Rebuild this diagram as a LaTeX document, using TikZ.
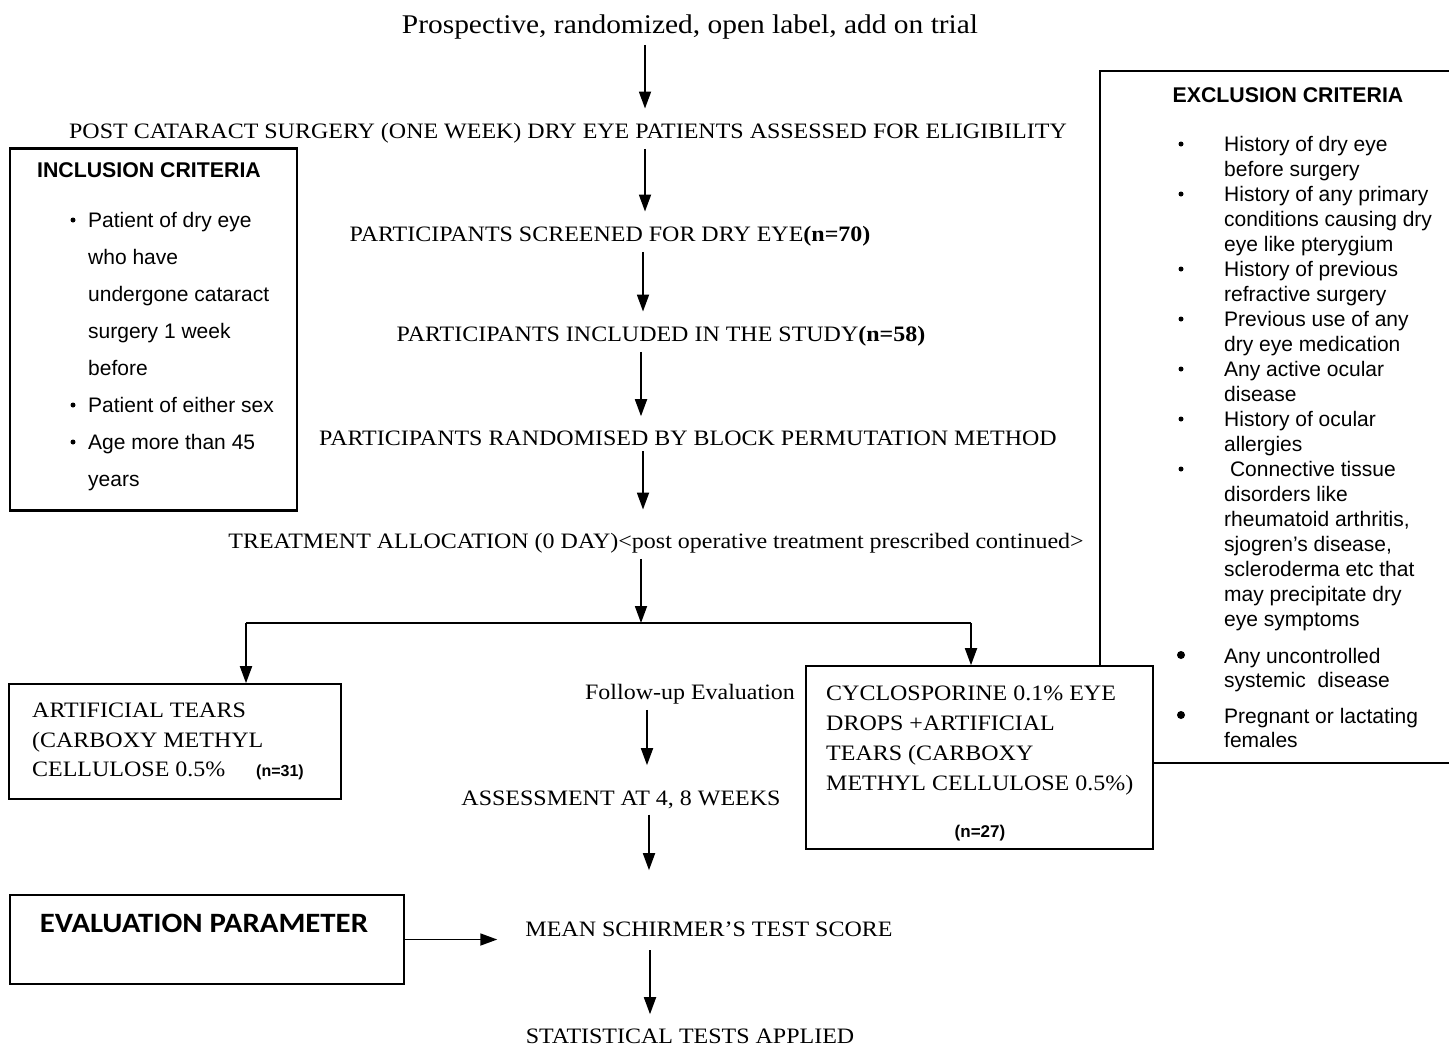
\documentclass[tikz,border=0pt]{standalone}
\usepackage{fontspec}
\setmainfont[FakeStretch=1.09]{Liberation Serif}
\newfontfamily\arial{Liberation Sans}
\newfontfamily\calibri[FakeStretch=1.1]{Carlito}
\usetikzlibrary{arrows.meta}
\begin{document}
\begin{tikzpicture}[x=1pt,y=-1pt,
  txt/.style={font=\fontsize{22}{26}\selectfont, inner sep=2pt, anchor=base},
  btxt/.style={font=\fontsize{22}{26}\selectfont, inner sep=0pt, anchor=base west},
  sans/.style={font=\arial\fontsize{21}{25}\selectfont, inner sep=0pt, anchor=base west},
  hdr/.style={font=\arial\bfseries\fontsize{21.3}{25}\selectfont, inner sep=0pt, anchor=base},
  nn/.style={font=\arial\bfseries\fontsize{17}{20}\selectfont, inner sep=0pt},
  arr/.style={line width=1.8pt, -{Triangle[length=17pt,width=12pt]}, shorten <=4pt, shorten >=12pt},
  box/.style={draw, line width=1.6pt, fill=white, inner sep=0pt},
  dot/.style={circle, fill, inner sep=0pt, minimum size=5pt},
  bigdot/.style={circle, fill, inner sep=0pt, minimum size=8pt}]
\useasboundingbox (0,0) rectangle (1449,1045);

% main column texts
\node[txt, font=\fontsize{27}{31}\selectfont] (T0) at (690,33) {Prospective, randomized, open label, add on trial};
\node[txt] (T1) at (568,138) {POST CATARACT SURGERY (ONE WEEK) DRY EYE PATIENTS ASSESSED FOR ELIGIBILITY};
\node[txt] (T2) at (610,241) {PARTICIPANTS SCREENED FOR DRY EYE\textbf{(n=70)}};
\node[txt] (T3) at (661,341) {PARTICIPANTS INCLUDED IN THE STUDY\textbf{(n=58)}};
\node[txt] (T4) at (688,445) {PARTICIPANTS RANDOMISED BY BLOCK PERMUTATION METHOD};
\node[txt] (T5) at (656,548) {TREATMENT ALLOCATION (0 DAY)<post operative treatment prescribed continued>};
\node[txt] (FU) at (690,699) {Follow-up Evaluation};
\node[txt] (AS) at (621,805) {ASSESSMENT AT 4, 8 WEEKS};
\node[txt] (MS) at (709,936) {MEAN SCHIRMER’S TEST SCORE};
\node[txt] (ST) at (690,1043) {STATISTICAL TESTS APPLIED};

% main arrows
\draw[arr] (T0.south -| 645,0) -- (T1.north -| 645,0);
\draw[arr] (T1.south -| 645,0) -- (T2.north -| 645,0);
\draw[arr] (T2.south -| 643,0) -- (T3.north -| 643,0);
\draw[arr] (T3.south -| 641,0) -- (T4.north -| 641,0);
\draw[arr, shorten >=21pt] (T4.south -| 643,0) -- (T5.north -| 643,0);
\coordinate (split) at (641,623);
\coordinate (Abr) at (246,623);
\coordinate (Cbr) at (971,623);
\draw[arr, shorten >=0pt] (T5.south -| split) -- (split);
\draw[line width=1.8pt] (Abr) -- (Cbr);

% exclusion criteria frame (open at right edge)
\draw[line width=1.6pt] (1449,71) -- (1100,71) -- (1100,763) -- (1449,763);

% treatment boxes
\node[box, minimum width=332pt, minimum height=115pt] (boxA) at (175,741.5) {};
\node[box, minimum width=347pt, minimum height=183pt] (boxC) at (979.5,757.5) {};
\draw[arr, shorten <=0pt, shorten >=0pt] (Abr) -- (boxA.north -| Abr);
\draw[arr, shorten <=0pt, shorten >=0pt] (Cbr) -- (boxC.north -| Cbr);

\node[btxt] (a1) at (32,717) {ARTIFICIAL TEARS};
\node[btxt] (a2) at (32,747) {(CARBOXY METHYL};
\node[btxt] (a3) at (32,776) {CELLULOSE 0.5\%};
\node[nn, font=\arial\bfseries\fontsize{16}{19}\selectfont, anchor=base west] (a4) at (256,776) {(n=31)};

\node[btxt] (c1) at (826,700) {CYCLOSPORINE 0.1\% EYE};
\node[btxt] (c2) at (826,730) {DROPS +ARTIFICIAL};
\node[btxt] (c3) at (826,760) {TEARS (CARBOXY};
\node[btxt] (c4) at (826,790) {METHYL CELLULOSE 0.5\%)};
\node[nn, anchor=base] (c5) at (980,837) {(n=27)};

\draw[arr, shorten >=23pt] (FU.south -| 647,0) -- (AS.north -| 647,0);
\draw[arr, shorten >=49pt] (AS.south -| 649,0) -- (MS.north -| 649,0);
\draw[arr, shorten <=12pt] (MS.south -| 650,0) -- (ST.north -| 650,0);

% evaluation parameter
\node[box, minimum width=394pt, minimum height=89pt] (EV) at (207,939.5) {};
\node[font=\calibri\bfseries\fontsize{28}{32}\selectfont, inner sep=0pt, anchor=base] (EVt) at (204,932) {EVALUATION PARAMETER};
\draw[arr, shorten <=0pt, shorten >=26pt] (EV.east) -- (EV.east -| MS.west);

% inclusion criteria
\node[box, minimum width=287pt, minimum height=362pt, line width=2.4pt] (inc) at (153.5,329.5) {};
\node[hdr] (incH) at (149,177) {INCLUSION CRITERIA};
\foreach \t [count=\i] in {Patient of dry eye, who have, undergone cataract, surgery 1 week, before, Patient of either sex, Age more than 45, years}
  \node[sans] (inc\i) at (88,190+37*\i) {\t};
\foreach \i in {1,6,7}
  \node[dot] (incb\i) at (73,183+37*\i) {};

% exclusion criteria
\node[hdr] (exH) at (1288,102) {EXCLUSION CRITERIA};
\foreach \t [count=\i] in {History of dry eye, before surgery, History of any primary, conditions causing dry, eye like pterygium, History of previous, refractive surgery, Previous use of any, dry eye medication, Any active ocular, disease, History of ocular, allergies, {\ Connective tissue}, disorders like, {rheumatoid arthritis,}, sjogren’s disease{,}, scleroderma etc that, may precipitate dry, eye symptoms}
  \node[sans] (ex\i) at (1224,126+25*\i) {\t};
\foreach \i in {1,3,6,8,10,12,14}
  \node[dot] (exb\i) at (1181,119+25*\i) {};
\node[sans] (ex21) at (1224,663) {Any uncontrolled};
\node[sans] (ex22) at (1224,687) {systemic\ \ disease};
\node[sans] (ex23) at (1224,723) {Pregnant or lactating};
\node[sans] (ex24) at (1224,747) {females};
\node[bigdot] (exb21) at (1181,655) {};
\node[bigdot] (exb23) at (1181,715) {};
\end{tikzpicture}
\end{document}
